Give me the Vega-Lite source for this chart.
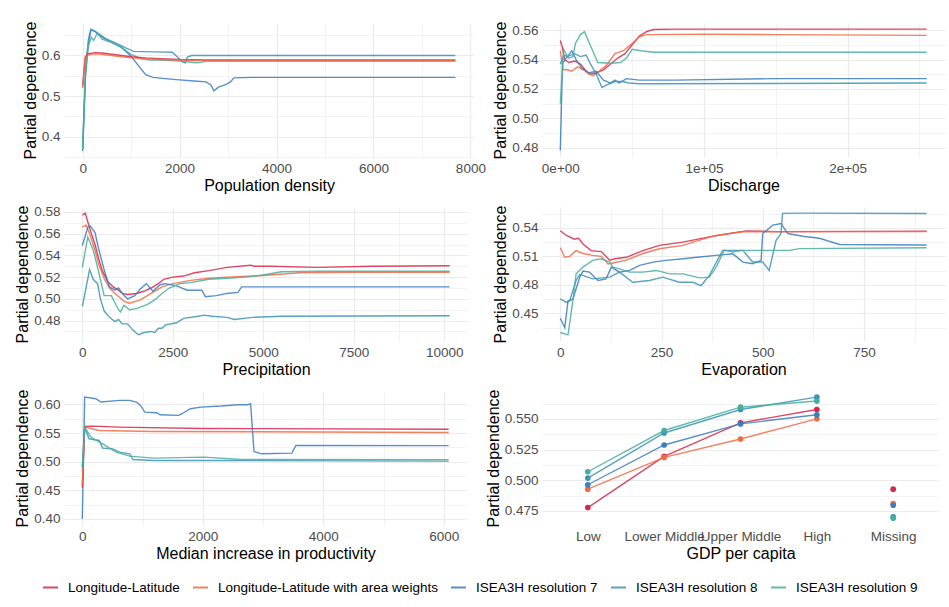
{
"$schema": "https://vega.github.io/schema/vega-lite/v6.json",
"padding": {"left": 14, "top": 21, "right": 2, "bottom": 5},
"datasets": {
"pop": [
{"m":"ISEA3H resolution 7","x":0,"y":0.365},{"m":"ISEA3H resolution 7","x":60,"y":0.55},{"m":"ISEA3H resolution 7","x":120,"y":0.63},{"m":"ISEA3H resolution 7","x":170,"y":0.662},{"m":"ISEA3H resolution 7","x":250,"y":0.66},{"m":"ISEA3H resolution 7","x":400,"y":0.645},{"m":"ISEA3H resolution 7","x":600,"y":0.632},{"m":"ISEA3H resolution 7","x":800,"y":0.62},{"m":"ISEA3H resolution 7","x":1000,"y":0.598},{"m":"ISEA3H resolution 7","x":1150,"y":0.575},{"m":"ISEA3H resolution 7","x":1300,"y":0.553},{"m":"ISEA3H resolution 7","x":1450,"y":0.546},{"m":"ISEA3H resolution 7","x":1700,"y":0.543},{"m":"ISEA3H resolution 7","x":2000,"y":0.54},{"m":"ISEA3H resolution 7","x":2300,"y":0.537},{"m":"ISEA3H resolution 7","x":2550,"y":0.535},{"m":"ISEA3H resolution 7","x":2650,"y":0.527},{"m":"ISEA3H resolution 7","x":2710,"y":0.513},{"m":"ISEA3H resolution 7","x":2800,"y":0.522},{"m":"ISEA3H resolution 7","x":2950,"y":0.528},{"m":"ISEA3H resolution 7","x":3050,"y":0.535},{"m":"ISEA3H resolution 7","x":3120,"y":0.545},{"m":"ISEA3H resolution 7","x":3500,"y":0.546},{"m":"ISEA3H resolution 7","x":5000,"y":0.546},{"m":"ISEA3H resolution 7","x":7690,"y":0.546},
{"m":"ISEA3H resolution 8","x":0,"y":0.37},{"m":"ISEA3H resolution 8","x":60,"y":0.57},{"m":"ISEA3H resolution 8","x":120,"y":0.64},{"m":"ISEA3H resolution 8","x":170,"y":0.665},{"m":"ISEA3H resolution 8","x":250,"y":0.66},{"m":"ISEA3H resolution 8","x":350,"y":0.652},{"m":"ISEA3H resolution 8","x":500,"y":0.64},{"m":"ISEA3H resolution 8","x":700,"y":0.63},{"m":"ISEA3H resolution 8","x":900,"y":0.618},{"m":"ISEA3H resolution 8","x":1050,"y":0.61},{"m":"ISEA3H resolution 8","x":1500,"y":0.609},{"m":"ISEA3H resolution 8","x":1850,"y":0.608},{"m":"ISEA3H resolution 8","x":1950,"y":0.597},{"m":"ISEA3H resolution 8","x":2050,"y":0.585},{"m":"ISEA3H resolution 8","x":2120,"y":0.582},{"m":"ISEA3H resolution 8","x":2160,"y":0.596},{"m":"ISEA3H resolution 8","x":2250,"y":0.6},{"m":"ISEA3H resolution 8","x":3000,"y":0.6},{"m":"ISEA3H resolution 8","x":7690,"y":0.6},
{"m":"ISEA3H resolution 9","x":0,"y":0.37},{"m":"ISEA3H resolution 9","x":60,"y":0.56},{"m":"ISEA3H resolution 9","x":110,"y":0.62},{"m":"ISEA3H resolution 9","x":180,"y":0.645},{"m":"ISEA3H resolution 9","x":230,"y":0.637},{"m":"ISEA3H resolution 9","x":300,"y":0.655},{"m":"ISEA3H resolution 9","x":400,"y":0.64},{"m":"ISEA3H resolution 9","x":600,"y":0.632},{"m":"ISEA3H resolution 9","x":800,"y":0.62},{"m":"ISEA3H resolution 9","x":1000,"y":0.603},{"m":"ISEA3H resolution 9","x":1200,"y":0.592},{"m":"ISEA3H resolution 9","x":1400,"y":0.589},{"m":"ISEA3H resolution 9","x":1700,"y":0.588},{"m":"ISEA3H resolution 9","x":2000,"y":0.586},{"m":"ISEA3H resolution 9","x":2200,"y":0.584},{"m":"ISEA3H resolution 9","x":2350,"y":0.582},{"m":"ISEA3H resolution 9","x":2450,"y":0.583},{"m":"ISEA3H resolution 9","x":2550,"y":0.586},{"m":"ISEA3H resolution 9","x":7690,"y":0.586},
{"m":"Longitude-Latitude","x":0,"y":0.525},{"m":"Longitude-Latitude","x":50,"y":0.595},{"m":"Longitude-Latitude","x":100,"y":0.604},{"m":"Longitude-Latitude","x":250,"y":0.607},{"m":"Longitude-Latitude","x":400,"y":0.606},{"m":"Longitude-Latitude","x":600,"y":0.603},{"m":"Longitude-Latitude","x":800,"y":0.6},{"m":"Longitude-Latitude","x":1000,"y":0.597},{"m":"Longitude-Latitude","x":1300,"y":0.594},{"m":"Longitude-Latitude","x":1600,"y":0.592},{"m":"Longitude-Latitude","x":2000,"y":0.59},{"m":"Longitude-Latitude","x":2500,"y":0.589},{"m":"Longitude-Latitude","x":7690,"y":0.589},
{"m":"Longitude-Latitude with area weights","x":0,"y":0.52},{"m":"Longitude-Latitude with area weights","x":50,"y":0.59},{"m":"Longitude-Latitude with area weights","x":100,"y":0.601},{"m":"Longitude-Latitude with area weights","x":250,"y":0.604},{"m":"Longitude-Latitude with area weights","x":400,"y":0.603},{"m":"Longitude-Latitude with area weights","x":600,"y":0.6},{"m":"Longitude-Latitude with area weights","x":800,"y":0.597},{"m":"Longitude-Latitude with area weights","x":1000,"y":0.594},{"m":"Longitude-Latitude with area weights","x":1300,"y":0.592},{"m":"Longitude-Latitude with area weights","x":1600,"y":0.59},{"m":"Longitude-Latitude with area weights","x":2000,"y":0.589},{"m":"Longitude-Latitude with area weights","x":2500,"y":0.587},{"m":"Longitude-Latitude with area weights","x":7690,"y":0.587}
],
"dis": [
{"m":"Longitude-Latitude","x":0,"y":0.553},{"m":"Longitude-Latitude","x":1500,"y":0.548},{"m":"Longitude-Latitude","x":3000,"y":0.54},{"m":"Longitude-Latitude","x":6000,"y":0.538},{"m":"Longitude-Latitude","x":10000,"y":0.539},{"m":"Longitude-Latitude","x":14000,"y":0.537},{"m":"Longitude-Latitude","x":18000,"y":0.532},{"m":"Longitude-Latitude","x":21000,"y":0.53},{"m":"Longitude-Latitude","x":25000,"y":0.531},{"m":"Longitude-Latitude","x":30000,"y":0.533},{"m":"Longitude-Latitude","x":35000,"y":0.537},{"m":"Longitude-Latitude","x":40000,"y":0.541},{"m":"Longitude-Latitude","x":45000,"y":0.544},{"m":"Longitude-Latitude","x":50000,"y":0.55},{"m":"Longitude-Latitude","x":55000,"y":0.556},{"m":"Longitude-Latitude","x":60000,"y":0.559},{"m":"Longitude-Latitude","x":65000,"y":0.5605},{"m":"Longitude-Latitude","x":80000,"y":0.5607},{"m":"Longitude-Latitude","x":255000,"y":0.5607},
{"m":"Longitude-Latitude with area weights","x":0,"y":0.546},{"m":"Longitude-Latitude with area weights","x":2000,"y":0.533},{"m":"Longitude-Latitude with area weights","x":5000,"y":0.533},{"m":"Longitude-Latitude with area weights","x":8000,"y":0.532},{"m":"Longitude-Latitude with area weights","x":12000,"y":0.535},{"m":"Longitude-Latitude with area weights","x":16000,"y":0.533},{"m":"Longitude-Latitude with area weights","x":20000,"y":0.53},{"m":"Longitude-Latitude with area weights","x":23000,"y":0.529},{"m":"Longitude-Latitude with area weights","x":27000,"y":0.532},{"m":"Longitude-Latitude with area weights","x":32000,"y":0.536},{"m":"Longitude-Latitude with area weights","x":38000,"y":0.544},{"m":"Longitude-Latitude with area weights","x":44000,"y":0.546},{"m":"Longitude-Latitude with area weights","x":50000,"y":0.551},{"m":"Longitude-Latitude with area weights","x":55000,"y":0.5555},{"m":"Longitude-Latitude with area weights","x":60000,"y":0.557},{"m":"Longitude-Latitude with area weights","x":100000,"y":0.5572},{"m":"Longitude-Latitude with area weights","x":150000,"y":0.557},{"m":"Longitude-Latitude with area weights","x":255000,"y":0.5565},
{"m":"ISEA3H resolution 7","x":0,"y":0.478},{"m":"ISEA3H resolution 7","x":1500,"y":0.537},{"m":"ISEA3H resolution 7","x":4000,"y":0.541},{"m":"ISEA3H resolution 7","x":8000,"y":0.546},{"m":"ISEA3H resolution 7","x":11000,"y":0.54},{"m":"ISEA3H resolution 7","x":15000,"y":0.534},{"m":"ISEA3H resolution 7","x":20000,"y":0.531},{"m":"ISEA3H resolution 7","x":25000,"y":0.532},{"m":"ISEA3H resolution 7","x":30000,"y":0.526},{"m":"ISEA3H resolution 7","x":35000,"y":0.524},{"m":"ISEA3H resolution 7","x":38000,"y":0.526},{"m":"ISEA3H resolution 7","x":41000,"y":0.524},{"m":"ISEA3H resolution 7","x":46000,"y":0.527},{"m":"ISEA3H resolution 7","x":55000,"y":0.526},{"m":"ISEA3H resolution 7","x":80000,"y":0.526},{"m":"ISEA3H resolution 7","x":150000,"y":0.527},{"m":"ISEA3H resolution 7","x":255000,"y":0.527},
{"m":"ISEA3H resolution 8","x":0,"y":0.537},{"m":"ISEA3H resolution 8","x":2500,"y":0.543},{"m":"ISEA3H resolution 8","x":5000,"y":0.542},{"m":"ISEA3H resolution 8","x":10000,"y":0.544},{"m":"ISEA3H resolution 8","x":14000,"y":0.542},{"m":"ISEA3H resolution 8","x":18000,"y":0.543},{"m":"ISEA3H resolution 8","x":21000,"y":0.537},{"m":"ISEA3H resolution 8","x":25000,"y":0.53},{"m":"ISEA3H resolution 8","x":29000,"y":0.521},{"m":"ISEA3H resolution 8","x":33000,"y":0.523},{"m":"ISEA3H resolution 8","x":38000,"y":0.525},{"m":"ISEA3H resolution 8","x":43000,"y":0.525},{"m":"ISEA3H resolution 8","x":48000,"y":0.524},{"m":"ISEA3H resolution 8","x":55000,"y":0.5235},{"m":"ISEA3H resolution 8","x":255000,"y":0.524},
{"m":"ISEA3H resolution 9","x":0,"y":0.51},{"m":"ISEA3H resolution 9","x":2300,"y":0.547},{"m":"ISEA3H resolution 9","x":5500,"y":0.541},{"m":"ISEA3H resolution 9","x":8800,"y":0.542},{"m":"ISEA3H resolution 9","x":10500,"y":0.551},{"m":"ISEA3H resolution 9","x":14000,"y":0.557},{"m":"ISEA3H resolution 9","x":16800,"y":0.559},{"m":"ISEA3H resolution 9","x":20300,"y":0.551},{"m":"ISEA3H resolution 9","x":23000,"y":0.545},{"m":"ISEA3H resolution 9","x":26100,"y":0.538},{"m":"ISEA3H resolution 9","x":35000,"y":0.5375},{"m":"ISEA3H resolution 9","x":42000,"y":0.538},{"m":"ISEA3H resolution 9","x":46000,"y":0.541},{"m":"ISEA3H resolution 9","x":50000,"y":0.547},{"m":"ISEA3H resolution 9","x":56000,"y":0.546},{"m":"ISEA3H resolution 9","x":65000,"y":0.545},{"m":"ISEA3H resolution 9","x":255000,"y":0.545}
],
"pre": [
{"m":"Longitude-Latitude","x":0,"y":0.577},{"m":"Longitude-Latitude","x":80,"y":0.579},{"m":"Longitude-Latitude","x":150,"y":0.571},{"m":"Longitude-Latitude","x":250,"y":0.56},{"m":"Longitude-Latitude","x":350,"y":0.55},{"m":"Longitude-Latitude","x":450,"y":0.537},{"m":"Longitude-Latitude","x":550,"y":0.526},{"m":"Longitude-Latitude","x":700,"y":0.516},{"m":"Longitude-Latitude","x":850,"y":0.511},{"m":"Longitude-Latitude","x":1000,"y":0.508},{"m":"Longitude-Latitude","x":1100,"y":0.505},{"m":"Longitude-Latitude","x":1250,"y":0.504},{"m":"Longitude-Latitude","x":1500,"y":0.505},{"m":"Longitude-Latitude","x":1700,"y":0.507},{"m":"Longitude-Latitude","x":1900,"y":0.51},{"m":"Longitude-Latitude","x":2100,"y":0.514},{"m":"Longitude-Latitude","x":2250,"y":0.518},{"m":"Longitude-Latitude","x":2500,"y":0.52},{"m":"Longitude-Latitude","x":2800,"y":0.521},{"m":"Longitude-Latitude","x":3100,"y":0.524},{"m":"Longitude-Latitude","x":3500,"y":0.526},{"m":"Longitude-Latitude","x":4000,"y":0.529},{"m":"Longitude-Latitude","x":4650,"y":0.531},{"m":"Longitude-Latitude","x":4750,"y":0.53},{"m":"Longitude-Latitude","x":5200,"y":0.53},{"m":"Longitude-Latitude","x":6500,"y":0.529},{"m":"Longitude-Latitude","x":8000,"y":0.53},{"m":"Longitude-Latitude","x":10150,"y":0.5305},
{"m":"Longitude-Latitude with area weights","x":0,"y":0.566},{"m":"Longitude-Latitude with area weights","x":100,"y":0.568},{"m":"Longitude-Latitude with area weights","x":200,"y":0.56},{"m":"Longitude-Latitude with area weights","x":350,"y":0.545},{"m":"Longitude-Latitude with area weights","x":450,"y":0.532},{"m":"Longitude-Latitude with area weights","x":600,"y":0.519},{"m":"Longitude-Latitude with area weights","x":750,"y":0.51},{"m":"Longitude-Latitude with area weights","x":900,"y":0.505},{"m":"Longitude-Latitude with area weights","x":1150,"y":0.498},{"m":"Longitude-Latitude with area weights","x":1300,"y":0.496},{"m":"Longitude-Latitude with area weights","x":1600,"y":0.499},{"m":"Longitude-Latitude with area weights","x":1900,"y":0.505},{"m":"Longitude-Latitude with area weights","x":2200,"y":0.511},{"m":"Longitude-Latitude with area weights","x":2500,"y":0.514},{"m":"Longitude-Latitude with area weights","x":3000,"y":0.517},{"m":"Longitude-Latitude with area weights","x":3500,"y":0.519},{"m":"Longitude-Latitude with area weights","x":4000,"y":0.52},{"m":"Longitude-Latitude with area weights","x":4700,"y":0.521},{"m":"Longitude-Latitude with area weights","x":5200,"y":0.522},{"m":"Longitude-Latitude with area weights","x":6000,"y":0.524},{"m":"Longitude-Latitude with area weights","x":7500,"y":0.5245},{"m":"Longitude-Latitude with area weights","x":10150,"y":0.5245},
{"m":"ISEA3H resolution 7","x":0,"y":0.549},{"m":"ISEA3H resolution 7","x":150,"y":0.566},{"m":"ISEA3H resolution 7","x":220,"y":0.567},{"m":"ISEA3H resolution 7","x":350,"y":0.561},{"m":"ISEA3H resolution 7","x":450,"y":0.546},{"m":"ISEA3H resolution 7","x":600,"y":0.527},{"m":"ISEA3H resolution 7","x":750,"y":0.511},{"m":"ISEA3H resolution 7","x":900,"y":0.508},{"m":"ISEA3H resolution 7","x":1000,"y":0.51},{"m":"ISEA3H resolution 7","x":1150,"y":0.503},{"m":"ISEA3H resolution 7","x":1250,"y":0.5},{"m":"ISEA3H resolution 7","x":1450,"y":0.503},{"m":"ISEA3H resolution 7","x":1600,"y":0.509},{"m":"ISEA3H resolution 7","x":1770,"y":0.514},{"m":"ISEA3H resolution 7","x":1950,"y":0.507},{"m":"ISEA3H resolution 7","x":2150,"y":0.513},{"m":"ISEA3H resolution 7","x":2300,"y":0.514},{"m":"ISEA3H resolution 7","x":2600,"y":0.512},{"m":"ISEA3H resolution 7","x":2900,"y":0.508},{"m":"ISEA3H resolution 7","x":3300,"y":0.508},{"m":"ISEA3H resolution 7","x":3400,"y":0.502},{"m":"ISEA3H resolution 7","x":3700,"y":0.503},{"m":"ISEA3H resolution 7","x":4000,"y":0.505},{"m":"ISEA3H resolution 7","x":4300,"y":0.506},{"m":"ISEA3H resolution 7","x":4400,"y":0.511},{"m":"ISEA3H resolution 7","x":10150,"y":0.511},
{"m":"ISEA3H resolution 8","x":0,"y":0.493},{"m":"ISEA3H resolution 8","x":200,"y":0.527},{"m":"ISEA3H resolution 8","x":300,"y":0.518},{"m":"ISEA3H resolution 8","x":420,"y":0.514},{"m":"ISEA3H resolution 8","x":500,"y":0.5},{"m":"ISEA3H resolution 8","x":600,"y":0.489},{"m":"ISEA3H resolution 8","x":750,"y":0.483},{"m":"ISEA3H resolution 8","x":900,"y":0.479},{"m":"ISEA3H resolution 8","x":1000,"y":0.481},{"m":"ISEA3H resolution 8","x":1100,"y":0.477},{"m":"ISEA3H resolution 8","x":1250,"y":0.477},{"m":"ISEA3H resolution 8","x":1400,"y":0.471},{"m":"ISEA3H resolution 8","x":1550,"y":0.467},{"m":"ISEA3H resolution 8","x":1700,"y":0.469},{"m":"ISEA3H resolution 8","x":1900,"y":0.47},{"m":"ISEA3H resolution 8","x":2000,"y":0.469},{"m":"ISEA3H resolution 8","x":2100,"y":0.473},{"m":"ISEA3H resolution 8","x":2200,"y":0.473},{"m":"ISEA3H resolution 8","x":2300,"y":0.476},{"m":"ISEA3H resolution 8","x":2600,"y":0.478},{"m":"ISEA3H resolution 8","x":2800,"y":0.482},{"m":"ISEA3H resolution 8","x":3200,"y":0.484},{"m":"ISEA3H resolution 8","x":3350,"y":0.485},{"m":"ISEA3H resolution 8","x":3600,"y":0.484},{"m":"ISEA3H resolution 8","x":4000,"y":0.483},{"m":"ISEA3H resolution 8","x":4200,"y":0.481},{"m":"ISEA3H resolution 8","x":4700,"y":0.483},{"m":"ISEA3H resolution 8","x":5500,"y":0.484},{"m":"ISEA3H resolution 8","x":10150,"y":0.4845},
{"m":"ISEA3H resolution 9","x":0,"y":0.529},{"m":"ISEA3H resolution 9","x":150,"y":0.557},{"m":"ISEA3H resolution 9","x":300,"y":0.545},{"m":"ISEA3H resolution 9","x":450,"y":0.525},{"m":"ISEA3H resolution 9","x":600,"y":0.503},{"m":"ISEA3H resolution 9","x":800,"y":0.503},{"m":"ISEA3H resolution 9","x":1000,"y":0.49},{"m":"ISEA3H resolution 9","x":1050,"y":0.488},{"m":"ISEA3H resolution 9","x":1150,"y":0.494},{"m":"ISEA3H resolution 9","x":1300,"y":0.49},{"m":"ISEA3H resolution 9","x":1500,"y":0.491},{"m":"ISEA3H resolution 9","x":1800,"y":0.495},{"m":"ISEA3H resolution 9","x":2000,"y":0.499},{"m":"ISEA3H resolution 9","x":2200,"y":0.505},{"m":"ISEA3H resolution 9","x":2400,"y":0.51},{"m":"ISEA3H resolution 9","x":2700,"y":0.514},{"m":"ISEA3H resolution 9","x":3000,"y":0.515},{"m":"ISEA3H resolution 9","x":3500,"y":0.518},{"m":"ISEA3H resolution 9","x":4000,"y":0.519},{"m":"ISEA3H resolution 9","x":4500,"y":0.52},{"m":"ISEA3H resolution 9","x":5000,"y":0.522},{"m":"ISEA3H resolution 9","x":5500,"y":0.525},{"m":"ISEA3H resolution 9","x":6500,"y":0.5255},{"m":"ISEA3H resolution 9","x":10150,"y":0.5255}
],
"eva": [
{"m":"Longitude-Latitude","x":0,"y":0.537},{"m":"Longitude-Latitude","x":15,"y":0.532},{"m":"Longitude-Latitude","x":35,"y":0.528},{"m":"Longitude-Latitude","x":45,"y":0.529},{"m":"Longitude-Latitude","x":56,"y":0.523},{"m":"Longitude-Latitude","x":76,"y":0.516},{"m":"Longitude-Latitude","x":101,"y":0.515},{"m":"Longitude-Latitude","x":122,"y":0.506},{"m":"Longitude-Latitude","x":134,"y":0.5075},{"m":"Longitude-Latitude","x":163,"y":0.509},{"m":"Longitude-Latitude","x":204,"y":0.516},{"m":"Longitude-Latitude","x":245,"y":0.5216},{"m":"Longitude-Latitude","x":303,"y":0.525},{"m":"Longitude-Latitude","x":368,"y":0.5305},{"m":"Longitude-Latitude","x":418,"y":0.534},{"m":"Longitude-Latitude","x":459,"y":0.5368},{"m":"Longitude-Latitude","x":533,"y":0.536},{"m":"Longitude-Latitude","x":905,"y":0.5365},
{"m":"Longitude-Latitude with area weights","x":0,"y":0.519},{"m":"Longitude-Latitude with area weights","x":11,"y":0.509},{"m":"Longitude-Latitude with area weights","x":23,"y":0.51},{"m":"Longitude-Latitude with area weights","x":39,"y":0.516},{"m":"Longitude-Latitude with area weights","x":56,"y":0.513},{"m":"Longitude-Latitude with area weights","x":80,"y":0.511},{"m":"Longitude-Latitude with area weights","x":101,"y":0.51},{"m":"Longitude-Latitude with area weights","x":118,"y":0.502},{"m":"Longitude-Latitude with area weights","x":130,"y":0.503},{"m":"Longitude-Latitude with area weights","x":163,"y":0.506},{"m":"Longitude-Latitude with area weights","x":204,"y":0.513},{"m":"Longitude-Latitude with area weights","x":245,"y":0.518},{"m":"Longitude-Latitude with area weights","x":303,"y":0.5216},{"m":"Longitude-Latitude with area weights","x":344,"y":0.527},{"m":"Longitude-Latitude with area weights","x":385,"y":0.532},{"m":"Longitude-Latitude with area weights","x":451,"y":0.5358},{"m":"Longitude-Latitude with area weights","x":905,"y":0.536},
{"m":"ISEA3H resolution 7","x":0,"y":0.445},{"m":"ISEA3H resolution 7","x":11,"y":0.435},{"m":"ISEA3H resolution 7","x":19,"y":0.463},{"m":"ISEA3H resolution 7","x":31,"y":0.465},{"m":"ISEA3H resolution 7","x":48,"y":0.488},{"m":"ISEA3H resolution 7","x":56,"y":0.4945},{"m":"ISEA3H resolution 7","x":72,"y":0.4934},{"m":"ISEA3H resolution 7","x":93,"y":0.4846},{"m":"ISEA3H resolution 7","x":113,"y":0.4863},{"m":"ISEA3H resolution 7","x":126,"y":0.4987},{"m":"ISEA3H resolution 7","x":146,"y":0.4934},{"m":"ISEA3H resolution 7","x":171,"y":0.4952},{"m":"ISEA3H resolution 7","x":196,"y":0.5005},{"m":"ISEA3H resolution 7","x":229,"y":0.504},{"m":"ISEA3H resolution 7","x":261,"y":0.5058},{"m":"ISEA3H resolution 7","x":303,"y":0.5075},{"m":"ISEA3H resolution 7","x":344,"y":0.5093},{"m":"ISEA3H resolution 7","x":385,"y":0.511},{"m":"ISEA3H resolution 7","x":426,"y":0.5128},{"m":"ISEA3H resolution 7","x":451,"y":0.504},{"m":"ISEA3H resolution 7","x":475,"y":0.5022},{"m":"ISEA3H resolution 7","x":496,"y":0.5058},{"m":"ISEA3H resolution 7","x":500,"y":0.534},{"m":"ISEA3H resolution 7","x":525,"y":0.5428},{"m":"ISEA3H resolution 7","x":545,"y":0.5446},{"m":"ISEA3H resolution 7","x":562,"y":0.534},{"m":"ISEA3H resolution 7","x":599,"y":0.5312},{"m":"ISEA3H resolution 7","x":640,"y":0.529},{"m":"ISEA3H resolution 7","x":690,"y":0.5225},{"m":"ISEA3H resolution 7","x":905,"y":0.522},
{"m":"ISEA3H resolution 8","x":0,"y":0.4652},{"m":"ISEA3H resolution 8","x":15,"y":0.4616},{"m":"ISEA3H resolution 8","x":23,"y":0.4634},{"m":"ISEA3H resolution 8","x":39,"y":0.4846},{"m":"ISEA3H resolution 8","x":48,"y":0.491},{"m":"ISEA3H resolution 8","x":80,"y":0.4863},{"m":"ISEA3H resolution 8","x":122,"y":0.4881},{"m":"ISEA3H resolution 8","x":146,"y":0.4934},{"m":"ISEA3H resolution 8","x":179,"y":0.4828},{"m":"ISEA3H resolution 8","x":220,"y":0.4846},{"m":"ISEA3H resolution 8","x":253,"y":0.4881},{"m":"ISEA3H resolution 8","x":294,"y":0.4828},{"m":"ISEA3H resolution 8","x":327,"y":0.4828},{"m":"ISEA3H resolution 8","x":348,"y":0.4793},{"m":"ISEA3H resolution 8","x":368,"y":0.4899},{"m":"ISEA3H resolution 8","x":401,"y":0.5163},{"m":"ISEA3H resolution 8","x":451,"y":0.5163},{"m":"ISEA3H resolution 8","x":475,"y":0.504},{"m":"ISEA3H resolution 8","x":500,"y":0.504},{"m":"ISEA3H resolution 8","x":516,"y":0.4952},{"m":"ISEA3H resolution 8","x":533,"y":0.5269},{"m":"ISEA3H resolution 8","x":545,"y":0.534},{"m":"ISEA3H resolution 8","x":549,"y":0.5552},{"m":"ISEA3H resolution 8","x":599,"y":0.5555},{"m":"ISEA3H resolution 8","x":905,"y":0.555},
{"m":"ISEA3H resolution 9","x":0,"y":0.4299},{"m":"ISEA3H resolution 9","x":19,"y":0.4274},{"m":"ISEA3H resolution 9","x":31,"y":0.4634},{"m":"ISEA3H resolution 9","x":39,"y":0.4916},{"m":"ISEA3H resolution 9","x":56,"y":0.4987},{"m":"ISEA3H resolution 9","x":80,"y":0.5058},{"m":"ISEA3H resolution 9","x":101,"y":0.5075},{"m":"ISEA3H resolution 9","x":122,"y":0.504},{"m":"ISEA3H resolution 9","x":130,"y":0.4987},{"m":"ISEA3H resolution 9","x":146,"y":0.4969},{"m":"ISEA3H resolution 9","x":171,"y":0.4934},{"m":"ISEA3H resolution 9","x":204,"y":0.4934},{"m":"ISEA3H resolution 9","x":237,"y":0.4952},{"m":"ISEA3H resolution 9","x":270,"y":0.4916},{"m":"ISEA3H resolution 9","x":303,"y":0.4916},{"m":"ISEA3H resolution 9","x":344,"y":0.4874},{"m":"ISEA3H resolution 9","x":368,"y":0.4881},{"m":"ISEA3H resolution 9","x":385,"y":0.4987},{"m":"ISEA3H resolution 9","x":405,"y":0.5163},{"m":"ISEA3H resolution 9","x":426,"y":0.5146},{"m":"ISEA3H resolution 9","x":451,"y":0.5163},{"m":"ISEA3H resolution 9","x":566,"y":0.5163},{"m":"ISEA3H resolution 9","x":590,"y":0.5181},{"m":"ISEA3H resolution 9","x":905,"y":0.519}
],
"pro": [
{"m":"ISEA3H resolution 7","x":0,"y":0.4},{"m":"ISEA3H resolution 7","x":39,"y":0.6128},{"m":"ISEA3H resolution 7","x":224,"y":0.6099},{"m":"ISEA3H resolution 7","x":308,"y":0.6041},{"m":"ISEA3H resolution 7","x":617,"y":0.607},{"m":"ISEA3H resolution 7","x":785,"y":0.607},{"m":"ISEA3H resolution 7","x":897,"y":0.6041},{"m":"ISEA3H resolution 7","x":965,"y":0.5983},{"m":"ISEA3H resolution 7","x":1038,"y":0.5866},{"m":"ISEA3H resolution 7","x":1234,"y":0.5854},{"m":"ISEA3H resolution 7","x":1290,"y":0.5819},{"m":"ISEA3H resolution 7","x":1598,"y":0.5808},{"m":"ISEA3H resolution 7","x":1655,"y":0.5837},{"m":"ISEA3H resolution 7","x":1795,"y":0.5924},{"m":"ISEA3H resolution 7","x":1963,"y":0.5953},{"m":"ISEA3H resolution 7","x":2300,"y":0.5971},{"m":"ISEA3H resolution 7","x":2580,"y":0.5994},{"m":"ISEA3H resolution 7","x":2748,"y":0.5994},{"m":"ISEA3H resolution 7","x":2793,"y":0.6012},{"m":"ISEA3H resolution 7","x":2849,"y":0.5178},{"m":"ISEA3H resolution 7","x":2973,"y":0.5137},{"m":"ISEA3H resolution 7","x":3477,"y":0.5149},{"m":"ISEA3H resolution 7","x":3545,"y":0.5283},{"m":"ISEA3H resolution 7","x":6080,"y":0.528},
{"m":"Longitude-Latitude","x":0,"y":0.455},{"m":"Longitude-Latitude","x":39,"y":0.5615},{"m":"Longitude-Latitude","x":168,"y":0.562},{"m":"Longitude-Latitude","x":617,"y":0.5603},{"m":"Longitude-Latitude","x":2000,"y":0.558},{"m":"Longitude-Latitude","x":6080,"y":0.5565},
{"m":"Longitude-Latitude with area weights","x":0,"y":0.46},{"m":"Longitude-Latitude with area weights","x":39,"y":0.5603},{"m":"Longitude-Latitude with area weights","x":280,"y":0.5545},{"m":"Longitude-Latitude with area weights","x":1178,"y":0.5528},{"m":"Longitude-Latitude with area weights","x":6080,"y":0.551},
{"m":"ISEA3H resolution 8","x":0,"y":0.49},{"m":"ISEA3H resolution 8","x":39,"y":0.5603},{"m":"ISEA3H resolution 8","x":112,"y":0.54},{"m":"ISEA3H resolution 8","x":280,"y":0.537},{"m":"ISEA3H resolution 8","x":337,"y":0.5236},{"m":"ISEA3H resolution 8","x":505,"y":0.5224},{"m":"ISEA3H resolution 8","x":617,"y":0.5166},{"m":"ISEA3H resolution 8","x":785,"y":0.5137},{"m":"ISEA3H resolution 8","x":841,"y":0.5038},{"m":"ISEA3H resolution 8","x":1178,"y":0.502},{"m":"ISEA3H resolution 8","x":2300,"y":0.502},{"m":"ISEA3H resolution 8","x":6080,"y":0.501},
{"m":"ISEA3H resolution 9","x":0,"y":0.49},{"m":"ISEA3H resolution 9","x":39,"y":0.5603},{"m":"ISEA3H resolution 9","x":140,"y":0.5429},{"m":"ISEA3H resolution 9","x":337,"y":0.5312},{"m":"ISEA3H resolution 9","x":561,"y":0.5166},{"m":"ISEA3H resolution 9","x":785,"y":0.5096},{"m":"ISEA3H resolution 9","x":1178,"y":0.5061},{"m":"ISEA3H resolution 9","x":2019,"y":0.5079},{"m":"ISEA3H resolution 9","x":2636,"y":0.5038},{"m":"ISEA3H resolution 9","x":6080,"y":0.5035}
],
"gdp": [
{"m":"Longitude-Latitude","g":"Low","y":0.4777},{"m":"Longitude-Latitude","g":"Lower Middle","y":0.5194},{"m":"Longitude-Latitude","g":"Upper Middle","y":0.5467},{"m":"Longitude-Latitude","g":"High","y":0.5576},{"m":"Longitude-Latitude","g":"Missing","y":0.4927},
{"m":"Longitude-Latitude with area weights","g":"Low","y":0.4927},{"m":"Longitude-Latitude with area weights","g":"Lower Middle","y":0.5186},{"m":"Longitude-Latitude with area weights","g":"Upper Middle","y":0.5336},{"m":"Longitude-Latitude with area weights","g":"High","y":0.55},{"m":"Longitude-Latitude with area weights","g":"Missing","y":0.481},
{"m":"ISEA3H resolution 7","g":"Low","y":0.4963},{"m":"ISEA3H resolution 7","g":"Lower Middle","y":0.5287},{"m":"ISEA3H resolution 7","g":"Upper Middle","y":0.5459},{"m":"ISEA3H resolution 7","g":"High","y":0.5533},{"m":"ISEA3H resolution 7","g":"Missing","y":0.4796},
{"m":"ISEA3H resolution 8","g":"Low","y":0.5017},{"m":"ISEA3H resolution 8","g":"Lower Middle","y":0.5385},{"m":"ISEA3H resolution 8","g":"Upper Middle","y":0.5576},{"m":"ISEA3H resolution 8","g":"High","y":0.5677},{"m":"ISEA3H resolution 8","g":"Missing","y":0.4701},
{"m":"ISEA3H resolution 9","g":"Low","y":0.5069},{"m":"ISEA3H resolution 9","g":"Lower Middle","y":0.5405},{"m":"ISEA3H resolution 9","g":"Upper Middle","y":0.5595},{"m":"ISEA3H resolution 9","g":"High","y":0.5645},{"m":"ISEA3H resolution 9","g":"Missing","y":0.469}
]
},
"config": {
"font": "Liberation Sans",
"view": {"stroke": null},
"axis": {"domain": false, "ticks": false, "labelColor": "#4D4D4D", "labelFontSize": 13.5, "labelPadding": 4, "titleFontSize": 16, "titleFontWeight": "normal", "titleColor": "#000000", "titlePadding": 3, "gridColor": "#EBEBEB", "labelFlush": false, "labelOverlap": false},
"legend": {"orient": "bottom", "direction": "horizontal", "labelFontSize": 13.5, "labelColor": "#000000", "labelLimit": 400, "gridAlign": "none", "symbolType": "stroke", "symbolStrokeWidth": 2, "symbolSize": 225, "columnPadding": 9, "labelOffset": 9, "offset": 17, "layout": {"bottom": {"anchor": "middle"}}}
},
"columns": 2,
"bounds": "flush",
"spacing": {"row": 50, "column": 68},
"concat": [
{
"width": 410, "height": 134,
"data": {"name": "pop"},
"mark": {"type": "line", "strokeWidth": 1.4, "opacity": 0.85},
"encoding": {
"x": {"field": "x", "type": "quantitative", "title": "Population density", "scale": {"domain": [-384.5, 8074.5], "nice": false, "zero": false}, "axis": {"values": [0,1000,2000,3000,4000,5000,6000,7000,8000], "format": "d", "labelExpr": "datum.value % 2000 === 0 ? datum.label : ''", "gridWidth": {"condition": {"test": "datum.value % 2000 === 0", "value": 1.2}, "value": 0.6}}},
"y": {"field": "y", "type": "quantitative", "title": "Partial dependence", "scale": {"domain": [0.35, 0.68], "nice": false, "zero": false}, "axis": {"values": [0.35,0.4,0.45,0.5,0.55,0.6,0.65], "format": ".1f", "labelExpr": "round(datum.value*100) % 10 === 0 ? datum.label : ''", "gridWidth": {"condition": {"test": "round(datum.value*100) % 10 === 0", "value": 1.2}, "value": 0.6}}},
"color": {"field": "m", "type": "nominal", "scale": {"domain": ["Longitude-Latitude","Longitude-Latitude with area weights","ISEA3H resolution 7","ISEA3H resolution 8","ISEA3H resolution 9"], "range": ["#D7264A","#F26A44","#3A7DC0","#3B93B4","#47AE9F"]}, "legend": {"title": null}}
}
},
{
"width": 403, "height": 134,
"data": {"name": "dis"},
"mark": {"type": "line", "strokeWidth": 1.4, "opacity": 0.85},
"encoding": {
"x": {"field": "x", "type": "quantitative", "title": "Discharge", "scale": {"domain": [-12750, 267750], "nice": false, "zero": false}, "axis": {"values": [0,50000,100000,150000,200000,250000], "labelExpr": "datum.value === 0 ? '0e+00' : datum.value === 100000 ? '1e+05' : datum.value === 200000 ? '2e+05' : ''", "gridWidth": {"condition": {"test": "datum.value % 100000 === 0", "value": 1.2}, "value": 0.6}}},
"y": {"field": "y", "type": "quantitative", "title": "Partial dependence", "scale": {"domain": [0.4736, 0.5649], "nice": false, "zero": false}, "axis": {"values": [0.48,0.49,0.5,0.51,0.52,0.53,0.54,0.55,0.56], "format": ".2f", "labelExpr": "round(datum.value*100) % 2 === 0 ? datum.label : ''", "gridWidth": {"condition": {"test": "round(datum.value*100) % 2 === 0", "value": 1.2}, "value": 0.6}}},
"color": {"field": "m", "type": "nominal", "legend": {"title": null}}
}
},
{
"width": 404, "height": 134,
"data": {"name": "pre"},
"mark": {"type": "line", "strokeWidth": 1.4, "opacity": 0.85},
"encoding": {
"x": {"field": "x", "type": "quantitative", "title": "Precipitation", "scale": {"domain": [-507.5, 10657.5], "nice": false, "zero": false}, "axis": {"values": [0,1250,2500,3750,5000,6250,7500,8750,10000], "format": "d", "labelExpr": "datum.value % 2500 === 0 ? datum.label : ''", "gridWidth": {"condition": {"test": "datum.value % 2500 === 0", "value": 1.2}, "value": 0.6}}},
"y": {"field": "y", "type": "quantitative", "title": "Partial dependence", "scale": {"domain": [0.4612, 0.5846], "nice": false, "zero": false}, "axis": {"values": [0.47,0.48,0.49,0.5,0.51,0.52,0.53,0.54,0.55,0.56,0.57,0.58], "format": ".2f", "labelExpr": "round(datum.value*100) % 2 === 0 ? datum.label : ''", "gridWidth": {"condition": {"test": "round(datum.value*100) % 2 === 0", "value": 1.2}, "value": 0.6}}},
"color": {"field": "m", "type": "nominal", "legend": {"title": null}}
}
},
{
"width": 403, "height": 134,
"data": {"name": "eva"},
"mark": {"type": "line", "strokeWidth": 1.4, "opacity": 0.85},
"encoding": {
"x": {"field": "x", "type": "quantitative", "title": "Evaporation", "scale": {"domain": [-45.25, 950.25], "nice": false, "zero": false}, "axis": {"values": [0,125,250,375,500,625,750,875], "format": "d", "labelExpr": "datum.value % 250 === 0 ? datum.label : ''", "gridWidth": {"condition": {"test": "datum.value % 250 === 0", "value": 1.2}, "value": 0.6}}},
"y": {"field": "y", "type": "quantitative", "title": "Partial dependence", "scale": {"domain": [0.421, 0.5619], "nice": false, "zero": false}, "axis": {"values": [0.435,0.45,0.465,0.48,0.495,0.51,0.525,0.54,0.555], "format": ".2f", "labelExpr": "round(datum.value*1000) % 30 === 0 ? datum.label : ''", "gridWidth": {"condition": {"test": "round(datum.value*1000) % 30 === 0", "value": 1.2}, "value": 0.6}}},
"color": {"field": "m", "type": "nominal", "legend": {"title": null}}
}
},
{
"width": 403, "height": 134,
"data": {"name": "pro"},
"mark": {"type": "line", "strokeWidth": 1.4, "opacity": 0.85},
"encoding": {
"x": {"field": "x", "type": "quantitative", "title": "Median increase in productivity", "scale": {"domain": [-304, 6384], "nice": false, "zero": false}, "axis": {"values": [0,1000,2000,3000,4000,5000,6000], "format": "d", "labelExpr": "datum.value % 2000 === 0 ? datum.label : ''", "gridWidth": {"condition": {"test": "datum.value % 2000 === 0", "value": 1.2}, "value": 0.6}}},
"y": {"field": "y", "type": "quantitative", "title": "Partial dependence", "scale": {"domain": [0.3894, 0.6234], "nice": false, "zero": false}, "axis": {"values": [0.4,0.425,0.45,0.475,0.5,0.525,0.55,0.575,0.6], "format": ".2f", "labelExpr": "round(datum.value*1000) % 50 === 0 ? datum.label : ''", "gridWidth": {"condition": {"test": "round(datum.value*1000) % 50 === 0", "value": 1.2}, "value": 0.6}}},
"color": {"field": "m", "type": "nominal", "legend": {"title": null}}
}
},
{
"width": 397, "height": 134,
"data": {"name": "gdp"},
"encoding": {
"x": {"field": "g", "type": "ordinal", "title": "GDP per capita", "sort": ["Low","Lower Middle","Upper Middle","High","Missing"], "scale": {"type": "point", "padding": 0.6}, "axis": {"labelAngle": 0, "gridWidth": 1.2}},
"y": {"field": "y", "type": "quantitative", "title": "Partial dependence", "scale": {"domain": [0.4635, 0.5727], "nice": false, "zero": false}, "axis": {"values": [0.475,0.4875,0.5,0.5125,0.525,0.5375,0.55,0.5625], "format": ".3f", "labelExpr": "round(datum.value*1000) % 25 === 0 ? datum.label : ''", "gridWidth": {"condition": {"test": "round(datum.value*1000) % 25 === 0", "value": 1.2}, "value": 0.6}}},
"color": {"field": "m", "type": "nominal", "legend": {"title": null}}
},
"layer": [
{"transform": [{"filter": "datum.g !== 'Missing'"}], "mark": {"type": "line", "strokeWidth": 1.4, "opacity": 0.85}},
{"mark": {"type": "circle", "size": 32, "opacity": 1}}
]
}
]
}
